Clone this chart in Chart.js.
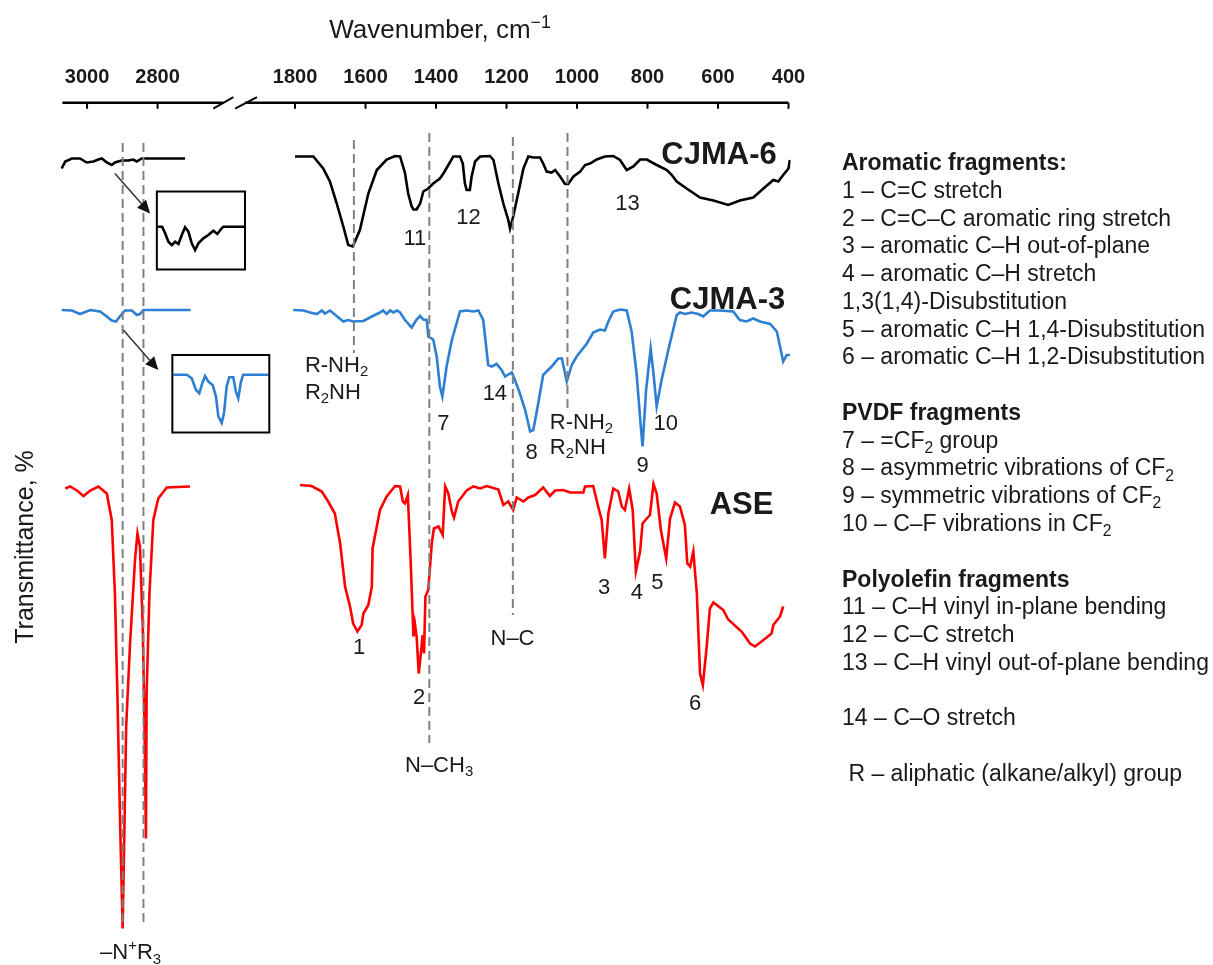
<!DOCTYPE html>
<html lang="en">
<head>
    <meta charset="UTF-8">
    <title>FTIR spectra</title>
    <script src="https://cdn.jsdelivr.net/npm/chart.js"></script>
    <style>
        body {
            margin: 0;
            background: #ffffff;
        }
        #ftir {
            display: block;
        }
    </style>
</head>
<body>
<canvas id="ftir" width="1213" height="965"></canvas>

<script>
    // axis break: wavenumbers above 2000 are shifted left so both parts share one scale
    const SHIFT = 610;
    const tickWn = [3000, 2800, 1800, 1600, 1400, 1200, 1000, 800, 600, 400];

    // [wavenumber, offset transmittance]
    const cjma6Left = [[3072,158.5],[3062,159.9],[3043,160.5],[3020,160.5],[3001,159.7],[2982,159.9],[2968,160.3],[2958,160.5],[2944,159.7],[2930,159.2],[2921,159.7],[2902,160.1],[2883,160.1],[2869,160.3],[2859,159.9],[2845,160.5],[2722,160.5]];
    const cjma6Right = [[1800,160.9],[1748,160.9],[1720,158.5],[1701,155.9],[1682,151.6],[1663,146.9],[1649,143.2],[1636,142.9],[1616,146.2],[1592,153.5],[1568,158.2],[1540,160.3],[1516,161.0],[1502,160.9],[1488,157.6],[1479,153.5],[1469,150.9],[1464,150.3],[1455,150.3],[1445,151.5],[1436,153.9],[1422,154.5],[1408,155.5],[1389,156.5],[1379,157.5],[1365,159.2],[1351,160.9],[1332,160.9],[1324,159.5],[1318,155.5],[1313,154.2],[1304,154.2],[1299,156.9],[1289,159.9],[1275,160.9],[1247,161.0],[1237,160.2],[1223,155.5],[1209,151.5],[1195,148.2],[1190,146.5],[1181,148.9],[1167,153.5],[1152,158.5],[1138,160.9],[1124,160.7],[1105,160.7],[1096,159.5],[1086,157.9],[1072,157.7],[1062,158.2],[1048,156.9],[1034,155.4],[1025,155.4],[1010,156.9],[991,157.9],[977,159.2],[963,159.5],[944,160.3],[921,160.9],[897,161.0],[878,160.2],[859,158.2],[840,158.9],[821,160.3],[802,160.3],[774,159.2],[745,158.2],[731,157.2],[717,155.9],[689,154.5],[651,152.7],[613,152.1],[571,151.2],[538,152.1],[500,152.7],[471,154.5],[443,156.2],[429,155.9],[415,157.2],[400,158.5],[396,160.2]];

    const cjma3Left = [[3072,130.2],[3043,130.1],[3020,129.4],[2991,130.2],[2963,129.9],[2944,128.9],[2930,128.1],[2918,127.9],[2906,129.0],[2892,130.1],[2873,130.1],[2859,129.2],[2850,129.4],[2840,130.2],[2706,130.2]];
    const cjma3Right = [[1805,130.2],[1776,130.1],[1757,129.7],[1738,129.4],[1724,130.1],[1715,129.5],[1701,130.1],[1682,129.0],[1663,127.9],[1649,128.2],[1635,127.9],[1606,128.0],[1582,128.9],[1559,129.7],[1550,130.1],[1540,129.4],[1530,130.1],[1521,129.7],[1511,130.1],[1502,129.7],[1488,128.2],[1469,126.7],[1455,128.3],[1445,129.0],[1436,128.3],[1426,128.2],[1422,124.9],[1408,124.3],[1398,120.9],[1389,114.9],[1382,112.9],[1370,118.9],[1355,124.2],[1332,129.9],[1313,130.1],[1294,129.9],[1280,130.1],[1266,128.2],[1252,119.2],[1242,118.9],[1228,119.4],[1214,118.2],[1204,116.9],[1185,117.7],[1176,116.2],[1162,113.5],[1147,110.2],[1133,105.9],[1124,106.2],[1110,111.5],[1096,117.2],[1072,118.9],[1053,120.5],[1043,120.5],[1029,115.9],[1015,119.2],[1001,120.9],[972,123.5],[954,125.7],[935,126.3],[921,126.1],[911,127.9],[897,129.9],[878,130.3],[859,130.1],[845,125.9],[831,117.5],[819,106.9],[814,102.9],[804,114.2],[791,122.5],[783,117.5],[774,110.9],[760,116.2],[741,122.2],[717,129.2],[708,129.7],[694,129.4],[675,129.7],[656,129.4],[642,128.9],[623,130.1],[594,130.1],[557,129.9],[538,128.2],[519,127.9],[500,128.5],[481,127.9],[452,127.4],[433,125.9],[424,122.9],[415,119.9],[405,121.2],[396,121.2]];

    const aseLeft = [[3062,94.5],[3048,94.9],[3029,94.1],[3010,93.0],[2991,94.1],[2968,94.9],[2944,93.5],[2930,88.2],[2921,73.5],[2914,53.5],[2906,26.9],[2899,6.5],[2889,46.9],[2878,63.5],[2864,80.2],[2857,85.5],[2850,82.9],[2842,66.9],[2837,46.9],[2833,24.5],[2831,53.5],[2823,73.5],[2812,88.2],[2798,92.5],[2774,94.7],[2708,94.9]];
    const aseRight = [[1786,95.2],[1753,95.0],[1724,93.9],[1706,91.9],[1687,89.5],[1672,83.5],[1658,74.9],[1644,70.9],[1635,67.5],[1623,65.9],[1611,67.2],[1606,69.5],[1592,71.2],[1582,74.9],[1580,82.5],[1559,90.2],[1540,92.9],[1516,95.0],[1502,94.9],[1494,91.9],[1488,91.5],[1480,93.2],[1472,80.2],[1464,64.9],[1460,67.5],[1455,64.9],[1449,57.5],[1443,61.5],[1438,65.2],[1434,61.5],[1430,72.9],[1422,74.2],[1412,83.5],[1406,86.5],[1393,86.9],[1381,85.2],[1374,94.9],[1365,93.5],[1355,89.9],[1349,88.7],[1337,91.9],[1313,94.1],[1294,94.9],[1275,94.5],[1256,95.0],[1223,94.3],[1209,91.2],[1195,91.9],[1181,90.2],[1171,92.7],[1152,91.9],[1138,92.7],[1119,93.2],[1096,94.7],[1077,93.0],[1062,94.1],[1039,94.2],[1020,93.7],[982,93.7],[977,94.9],[954,95.0],[940,90.9],[930,88.2],[921,80.5],[911,89.5],[897,94.5],[883,93.9],[873,90.9],[864,90.2],[852,94.5],[842,90.2],[833,77.9],[821,81.9],[814,87.5],[802,88.5],[793,89.2],[783,95.4],[774,93.5],[762,86.2],[747,80.5],[736,88.5],[722,91.7],[708,90.9],[694,87.2],[687,79.5],[679,78.9],[670,81.9],[660,73.5],[651,57.5],[643,55.2],[632,62.9],[623,70.5],[613,71.7],[585,70.2],[571,68.3],[533,65.9],[509,63.5],[495,62.9],[471,64.2],[448,65.5],[443,67.2],[424,68.9],[415,70.9]];

    // zoomed insets, local 0-100 coordinates inside their frames
    const inset6 = [[0.7,54.9],[6.0,54.9],[9.4,46.4],[13.1,35.6],[17.0,31.3],[20.7,35.6],[24.5,32.6],[28.3,44.2],[32.0,54.1],[35.8,48.5],[39.6,33.5],[43.4,24.9],[47.1,33.5],[52.8,39.9],[58.4,44.2],[64.1,49.7],[68.6,45.5],[73.6,52.8],[75.4,54.9],[98.9,54.9]];
    const inset3 = [[1.0,74.6],[14.8,74.6],[20.0,70.0],[24.4,54.9],[27.8,50.7],[30.9,63.6],[33.7,73.0],[37.1,65.6],[41.6,61.4],[45.0,46.3],[47.4,21.0],[50.9,12.2],[53.3,25.0],[56.0,59.2],[58.7,71.3],[62.8,71.3],[65.6,52.8],[68.0,44.3],[70.8,65.6],[73.1,74.6],[99.4,74.6]];

    // dashed marker lines: [wavenumber, top, bottom]
    const refLines = [[2899,163.6,6.8],[2840,163.6,7.2],[1633,164.2,121.6],[1419,165.6,43.6],[1182,164.8,69.2],[1027,165.6,109.6]];

    const legendLines = [
        '*Aromatic fragments:',
        '1 – C=C stretch',
        '2 – C=C–C aromatic ring stretch',
        '3 – aromatic C–H out-of-plane',
        '4 – aromatic C–H stretch',
        '1,3(1,4)-Disubstitution',
        '5 – aromatic C–H 1,4-Disubstitution',
        '6 – aromatic C–H 1,2-Disubstitution',
        '',
        '*PVDF fragments',
        '7 – =CF_{2} group',
        '8 – asymmetric vibrations of CF_{2}',
        '9 – symmetric vibrations of CF_{2}',
        '10 – C–F vibrations in CF_{2}',
        '',
        '*Polyolefin fragments',
        '11 – C–H vinyl in-plane bending',
        '12 – C–C stretch',
        '13 – C–H vinyl out-of-plane bending',
        '',
        '14 – C–O stretch',
        '',
        ' R – aliphatic (alkane/alkyl) group'
    ];

    const FONT = "'Liberation Sans', Arial, sans-serif";
    const INK = '#1a1a1a';

    function ax(w) {
        return w > 2000 ? w - SHIFT : w;
    }

    // frames of the insets, in axis units
    const frame6 = {x0: 2192, x1: 1942, y0: 138.3, y1: 153.9};
    const frame3 = {x0: 2148, x1: 1873, y0: 105.7, y1: 121.2};

    // label placement in axis units (x = shifted wavenumber)
    const labels = [
        {x: 597, y: 159.5, t: 'CJMA-6', bold: true, size: 31},
        {x: 573, y: 130.5, t: 'CJMA-3', bold: true, size: 31},
        {x: 533, y: 89.5, t: 'ASE', bold: true, size: 31},
        {x: 1460, y: 143.2, t: '11'},
        {x: 1308, y: 147.5, t: '12'},
        {x: 857, y: 150.2, t: '13'},
        {x: 1379, y: 106.2, t: '7'},
        {x: 1233, y: 112.2, t: '14'},
        {x: 1129, y: 100.5, t: '8'},
        {x: 814, y: 97.9, t: '9'},
        {x: 748, y: 106.2, t: '10'},
        {x: 1618, y: 61.5, t: '1'},
        {x: 1448, y: 51.5, t: '2'},
        {x: 923, y: 73.5, t: '3'},
        {x: 830, y: 72.5, t: '4'},
        {x: 772, y: 74.5, t: '5'},
        {x: 665, y: 50.2, t: '6'},
        {x: 1183, y: 63.2, t: 'N–C'},
        {x: 1488, y: 37.9, t: 'N–CH_{3}', left: true},
        {x: 1772, y: 117.9, t: 'R-NH_{2}', left: true},
        {x: 1772, y: 112.5, t: 'R_{2}NH', left: true},
        {x: 1077, y: 106.5, t: 'R-NH_{2}', left: true},
        {x: 1077, y: 101.5, t: 'R_{2}NH', left: true},
        {x: 2353, y: 0.4, t: '–N^{+}R_{3}', left: true}
    ];

    const arrows = [
        {x0: 2311, y0: 157.5, x1: 2211, y1: 149.5},
        {x0: 2287, y0: 126.2, x1: 2188, y1: 118.2}
    ];

    function richParts(str) {
        const parts = [];
        const re = /([_^])\{([^}]*)\}/g;
        let last = 0, m;
        while ((m = re.exec(str))) {
            if (m.index > last) parts.push({t: str.slice(last, m.index), k: 0});
            parts.push({t: m[2], k: m[1] === '_' ? 1 : -1});
            last = re.lastIndex;
        }
        if (last < str.length) parts.push({t: str.slice(last), k: 0});
        return parts;
    }

    function drawRich(ctx, str, x, y, size, bold, align) {
        const parts = richParts(str);
        const fontFor = p => (bold ? 'bold ' : '') + (p.k ? size * 0.68 : size) + 'px ' + FONT;
        let w = 0;
        parts.forEach(p => {
            ctx.font = fontFor(p);
            p.w = ctx.measureText(p.t).width;
            w += p.w;
        });
        let cx = align === 'center' ? x - w / 2 : x;
        ctx.textAlign = 'left';
        ctx.textBaseline = 'alphabetic';
        parts.forEach(p => {
            ctx.font = fontFor(p);
            const dy = p.k === 1 ? size * 0.22 : (p.k === -1 ? -size * 0.4 : 0);
            ctx.fillText(p.t, cx, y + dy);
            cx += p.w;
        });
    }

    function line(pts, color) {
        return {
            data: pts.map(p => ({x: ax(p[0]), y: p[1]})),
            borderColor: color,
            borderWidth: 2.6,
            pointRadius: 0,
            tension: 0,
            fill: false
        };
    }

    function insetLine(pts, f, color) {
        return {
            data: pts.map(p => ({x: f.x0 + (f.x1 - f.x0) * p[0] / 100, y: f.y0 + (f.y1 - f.y0) * p[1] / 100})),
            borderColor: color,
            borderWidth: 2.6,
            pointRadius: 0,
            tension: 0,
            fill: false
        };
    }

    const datasets = [];
    // dashed markers first so they sit on top of the spectra
    refLines.forEach(r => {
        datasets.push({
            data: [{x: ax(r[0]), y: r[1]}, {x: ax(r[0]), y: r[2]}],
            borderColor: '#808080',
            borderWidth: 2,
            borderDash: [9, 5],
            pointRadius: 0,
            fill: false
        });
    });
    datasets.push(line(cjma6Left, '#000000'));
    datasets.push(line(cjma6Right, '#000000'));
    datasets.push(line(cjma3Left, '#2d7fd4'));
    datasets.push(line(cjma3Right, '#2d7fd4'));
    datasets.push(line(aseLeft, '#ff0000'));
    datasets.push(line(aseRight, '#ff0000'));
    datasets.push(insetLine(inset6, frame6, '#000000'));
    datasets.push(insetLine(inset3, frame3, '#2d7fd4'));

    const decor = {
        id: 'decor',
        afterDatasetsDraw(chart) {
            const {ctx, chartArea: ca, scales: {x, y}} = chart;
            ctx.save();

            // inset frames
            ctx.strokeStyle = '#000000';
            ctx.lineWidth = 2;
            [frame6, frame3].forEach(f => {
                const l = x.getPixelForValue(f.x0), r = x.getPixelForValue(f.x1);
                const t = y.getPixelForValue(f.y1), b = y.getPixelForValue(f.y0);
                ctx.strokeRect(l, t, r - l, b - t);
            });

            // arrows towards the insets
            ctx.strokeStyle = '#333333';
            ctx.fillStyle = '#111111';
            ctx.lineWidth = 1.5;
            arrows.forEach(a => {
                const px0 = x.getPixelForValue(a.x0), py0 = y.getPixelForValue(a.y0);
                const px1 = x.getPixelForValue(a.x1), py1 = y.getPixelForValue(a.y1);
                const ang = Math.atan2(py1 - py0, px1 - px0);
                const hl = 13, hw = 6;
                const bx = px1 - hl * Math.cos(ang), by = py1 - hl * Math.sin(ang);
                ctx.beginPath();
                ctx.moveTo(px0, py0);
                ctx.lineTo(bx, by);
                ctx.stroke();
                ctx.beginPath();
                ctx.moveTo(px1, py1);
                ctx.lineTo(bx + hw * Math.sin(ang), by - hw * Math.cos(ang));
                ctx.lineTo(bx - hw * Math.sin(ang), by + hw * Math.cos(ang));
                ctx.closePath();
                ctx.fill();
            });

            // broken top axis
            const ay = ca.top + 1.7;
            ctx.strokeStyle = '#000000';
            ctx.lineWidth = 2.5;
            ctx.beginPath();
            ctx.moveTo(x.getPixelForValue(2460), ay);
            ctx.lineTo(x.getPixelForValue(2004), ay);
            ctx.moveTo(x.getPixelForValue(1942), ay);
            ctx.lineTo(x.getPixelForValue(400), ay);
            ctx.stroke();
            ctx.lineWidth = 2;
            ctx.beginPath();
            tickWn.forEach(w => {
                const px = x.getPixelForValue(ax(w));
                ctx.moveTo(px, ay);
                ctx.lineTo(px, ay + 6);
            });
            ctx.moveTo(x.getPixelForValue(2032), ay + 6);
            ctx.lineTo(x.getPixelForValue(1975), ay - 5.5);
            ctx.moveTo(x.getPixelForValue(1970), ay + 6);
            ctx.lineTo(x.getPixelForValue(1908), ay - 5.5);
            ctx.stroke();

            // peak labels
            ctx.fillStyle = INK;
            labels.forEach(l => {
                drawRich(ctx, l.t, x.getPixelForValue(l.x), y.getPixelForValue(l.y),
                    l.size || 22, !!l.bold, l.left ? 'left' : 'center');
            });

            // titles
            drawRich(ctx, 'Wavenumber, cm^{−1}', 440, 38, 26, false, 'center');
            ctx.save();
            ctx.translate(33, 547);
            ctx.rotate(-Math.PI / 2);
            ctx.font = '25px ' + FONT;
            ctx.textAlign = 'center';
            ctx.textBaseline = 'alphabetic';
            ctx.fillText('Transmittance, %', 0, 0);
            ctx.restore();

            // band assignment list
            legendLines.forEach((s, i) => {
                if (!s) return;
                const bold = s[0] === '*';
                drawRich(ctx, bold ? s.slice(1) : s, 842, 170 + i * 27.77, 23, bold, 'left');
            });

            ctx.restore();
        }
    };

    Chart.defaults.font.family = FONT;

    new Chart(document.getElementById('ftir'), {
        type: 'line',
        data: {datasets: datasets},
        options: {
            responsive: false,
            animation: false,
            layout: {padding: {top: 53, left: 43, right: 422.4, bottom: 4}},
            plugins: {legend: {display: false}, tooltip: {enabled: false}},
            scales: {
                x: {
                    type: 'linear',
                    position: 'top',
                    reverse: true,
                    min: 394,
                    max: 2515,
                    grid: {display: false, drawTicks: false},
                    border: {display: false},
                    afterBuildTicks: s => {
                        s.ticks = tickWn.map(w => ({value: ax(w)}));
                    },
                    ticks: {
                        autoSkip: false,
                        maxRotation: 0,
                        padding: 12,
                        color: INK,
                        font: {size: 20, weight: 'bold'},
                        callback: v => String(v > 2000 ? v + SHIFT : v)
                    }
                },
                y: {display: false, min: 0, max: 172}
            }
        },
        plugins: [decor]
    });
</script>
</body>
</html>
